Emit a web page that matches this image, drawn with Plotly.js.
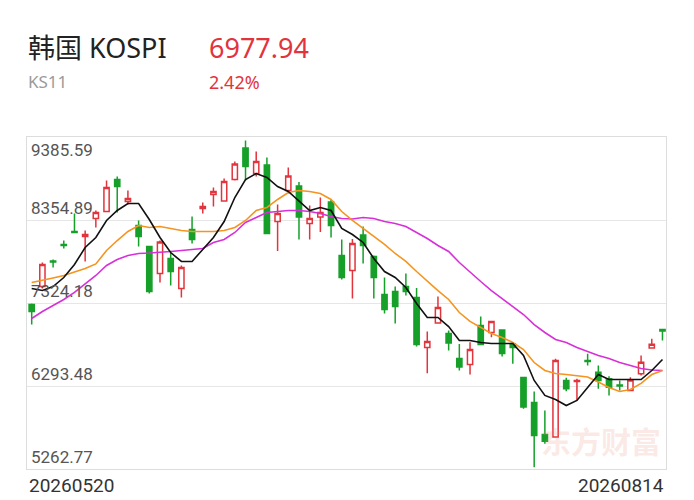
<!DOCTYPE html>
<html>
<head>
<meta charset="utf-8">
<script src="https://cdn.plot.ly/plotly-3.0.1.min.js"></script>
<style>
  html, body { margin: 0; padding: 0; background: #ffffff; }
  #chart { width: 694px; height: 500px; }
</style>
</head>
<body>
<div id="chart"></div>
<script>
// ---- Header texts ----
const indexName = '韩国 KOSPI';
const indexCode = 'KS11';
const lastPrice = '6977.94';
const changePct = '2.42%';
const watermark = '东方财富';

// ---- Axis labels ----
const dateLabels = ['20260520', '20260814'];
const priceLevels = [9385.59, 8354.89, 7324.18, 6293.48, 5262.77];

// ---- Daily candles ----
const openVals  = [7306, 7529, 7846, 8051, 8212, 8150, 8374, 8460, 8858, 8585,
                   8287, 8026, 7691, 7877, 7504, 8237, 8498, 8671, 8591, 8858,
                   9249, 8932, 9038, 8336, 8721, 8777, 8312, 8392, 8578, 7914,
                   7728, 8169, 7902, 7430, 7467, 7529, 7392, 6772, 7076, 6945,
                   6635, 6560, 7045, 6958, 6989, 6815, 6399, 6089, 5691, 5660,
                   6362, 6349, 6610, 6465, 6383, 6306, 6238, 6445, 6765, 6995];
const highVals  = [7318, 7827, 7864, 8100, 8436, 8224, 8473, 8845, 8895, 8721,
                   8349, 8030, 8100, 7951, 7790, 8398, 8572, 8758, 8870, 9081,
                   9342, 9205, 9131, 8548, 9007, 8827, 8535, 8634, 8603, 8113,
                   8119, 8274, 7914, 7641, 7529, 7691, 7510, 6970, 7405, 6983,
                   6815, 6837, 7157, 7101, 6995, 6840, 6405, 6225, 5989, 6631,
                   6395, 6383, 6693, 6548, 6415, 6362, 6403, 6672, 6880, 7004];
const lowVals   = [7057, 7504, 7765, 8001, 8193, 7840, 8262, 8460, 8448, 8547,
                   8026, 7442, 7579, 7541, 7393, 8063, 8436, 8523, 8585, 8845,
                   8845, 8895, 8181, 7969, 8684, 8113, 8113, 8206, 8138, 7616,
                   7380, 7815, 7380, 7194, 7070, 7417, 6784, 6452, 7070, 6734,
                   6486, 6436, 6803, 6900, 6660, 6569, 6011, 5285, 5576, 5654,
                   6229, 6113, 6548, 6259, 6175, 6238, 6238, 6424, 6760, 6858];
const closeVals = [7219, 7802, 7833, 8038, 8200, 8175, 8448, 8758, 8771, 8622,
                   8150, 7467, 8082, 7715, 7765, 8113, 8523, 8709, 8833, 9050,
                   9019, 9081, 8187, 8436, 8901, 8392, 8374, 8448, 8287, 7641,
                   8063, 8038, 7641, 7243, 7281, 7467, 6809, 6846, 7268, 6827,
                   6529, 6747, 6809, 7094, 6697, 6772, 6033, 5679, 5608, 6610,
                   6259, 6362, 6598, 6362, 6279, 6294, 6368, 6589, 6813.07, 6977.94];

// ---- Moving average lines ----
const ma5  = [7504, 7479, 7529, 7641, 7802, 8013, 8138, 8349, 8473, 8560,
              8560, 8361, 8138, 7951, 7840, 7840, 7989, 8138, 8336, 8634,
              8858, 8932, 8883, 8771, 8709, 8585, 8473, 8510, 8473, 8249,
              8175, 8076, 7877, 7715, 7641, 7517, 7318, 7144, 7144, 7032,
              6859, 6859, 6834, 6821, 6821, 6821, 6672, 6362, 6176, 6126,
              6051, 6114, 6275, 6436, 6374, 6374, 6374, 6374, 6486, 6623];
const ma10 = [7579, 7604, 7635, 7666, 7709, 7753, 7809, 7976, 8100, 8212,
              8287, 8262, 8274, 8249, 8225, 8212, 8212, 8212, 8225, 8262,
              8349, 8473, 8510, 8610, 8696, 8721, 8709, 8684, 8610, 8460,
              8349, 8249, 8150, 8051, 7939, 7840, 7715, 7591, 7479, 7368,
              7206, 7095, 7020, 6946, 6896, 6834, 6747, 6585, 6486, 6449,
              6436, 6424, 6405, 6343, 6275, 6225, 6250, 6325, 6436, 6486];
const ma20 = [7132, 7219, 7293, 7368, 7455, 7566, 7666, 7790, 7864, 7914,
              7939, 7945, 7951, 7964, 7976, 7989, 8001, 8076, 8113, 8200,
              8324, 8386, 8448, 8460, 8473, 8473, 8460, 8436, 8398, 8374,
              8367, 8386, 8374, 8336, 8311, 8274, 8200, 8125, 8038, 7964,
              7827, 7703, 7591, 7479, 7380, 7281, 7181, 7057, 6958, 6871,
              6834, 6772, 6722, 6672, 6635, 6585, 6548, 6511, 6492, 6486];

const xIdx = closeVals.map((_, i) => i);

const RED = '#e2343c';
const GREEN = '#16a02a';

const traces = [
  {
    type: 'candlestick',
    x: xIdx, open: openVals, high: highVals, low: lowVals, close: closeVals,
    increasing: { line: { color: RED, width: 1.5 }, fillcolor: '#ffffff' },
    decreasing: { line: { color: GREEN, width: 1.5 }, fillcolor: GREEN },
    whiskerwidth: 0,
    hoverinfo: 'skip',
    showlegend: false
  },
  { type: 'scatter', mode: 'lines', x: xIdx, y: ma20, line: { color: '#d830d8', width: 1.6 }, hoverinfo: 'skip', showlegend: false },
  { type: 'scatter', mode: 'lines', x: xIdx, y: ma10, line: { color: '#f5941e', width: 1.6 }, hoverinfo: 'skip', showlegend: false },
  { type: 'scatter', mode: 'lines', x: xIdx, y: ma5,  line: { color: '#111111', width: 1.6 }, hoverinfo: 'skip', showlegend: false }
];

const numFont = "Roboto, 'Noto Sans CJK SC', sans-serif";
const headFont = "'Noto Sans', 'Noto Sans CJK SC', sans-serif";
const annotations = [];

// header
annotations.push({ text: indexName, xref: 'paper', yref: 'paper', x: -0.002, y: 1.271, xanchor: 'left', yanchor: 'middle',
  showarrow: false, font: { family: headFont, size: 27, color: '#222222' } });
annotations.push({ text: lastPrice, xref: 'paper', yref: 'paper', x: 0.281, y: 1.271, xanchor: 'left', yanchor: 'middle',
  showarrow: false, font: { family: headFont, size: 27, color: RED } });
annotations.push({ text: indexCode, xref: 'paper', yref: 'paper', x: -0.002, y: 1.166, xanchor: 'left', yanchor: 'middle',
  showarrow: false, font: { family: headFont, size: 17, color: '#9a9a9a' } });
annotations.push({ text: changePct, xref: 'paper', yref: 'paper', x: 0.281, y: 1.166, xanchor: 'left', yanchor: 'middle',
  showarrow: false, font: { family: headFont, size: 18, color: RED } });

// y labels inside plot
priceLevels.forEach((v, i) => {
  const top = i === 0;
  annotations.push({
    text: v.toFixed(2), xref: 'paper', yref: 'y', x: 0, y: v,
    xanchor: 'left', yanchor: top ? 'top' : 'bottom', xshift: 2, yshift: top ? -1 : 0,
    showarrow: false, font: { family: numFont, size: 17, color: '#555555' }
  });
});

// date labels
annotations.push({ text: dateLabels[0], xref: 'paper', yref: 'paper', x: 0, y: 0, xanchor: 'left', yanchor: 'top', yshift: -3,
  showarrow: false, font: { family: numFont, size: 19, color: '#333333' } });
annotations.push({ text: dateLabels[1], xref: 'paper', yref: 'paper', x: 1, y: 0, xanchor: 'right', yanchor: 'top', yshift: -3,
  showarrow: false, font: { family: numFont, size: 19, color: '#333333' } });

// watermark
annotations.push({ text: '<b>' + watermark + '</b>', xref: 'paper', yref: 'paper', x: 0.995, y: 0.015, xanchor: 'right', yanchor: 'bottom',
  showarrow: false, font: { family: "'Noto Sans CJK SC', sans-serif", size: 30, color: 'rgba(235,140,120,0.2)' } });

const layout = {
  width: 694, height: 500,
  margin: { l: 27, r: 28, t: 137, b: 31, pad: 0 },
  paper_bgcolor: '#ffffff', plot_bgcolor: '#ffffff',
  showlegend: false,
  xaxis: {
    range: [-0.44, 59.33], showgrid: false, zeroline: false, showticklabels: false, ticks: '',
    showline: true, mirror: true, linecolor: '#dddddd', linewidth: 1,
    rangeslider: { visible: false }, fixedrange: true
  },
  yaxis: {
    range: [priceLevels[priceLevels.length - 1], priceLevels[0]],
    tickvals: priceLevels, showticklabels: false, ticks: '',
    showgrid: true, gridcolor: '#e6e6e6', gridwidth: 1, zeroline: false,
    showline: true, mirror: true, linecolor: '#dddddd', linewidth: 1, fixedrange: true
  },
  annotations: annotations,
  hovermode: false
};

Plotly.newPlot('chart', traces, layout, { displayModeBar: false, staticPlot: true });
</script>
</body>
</html>
